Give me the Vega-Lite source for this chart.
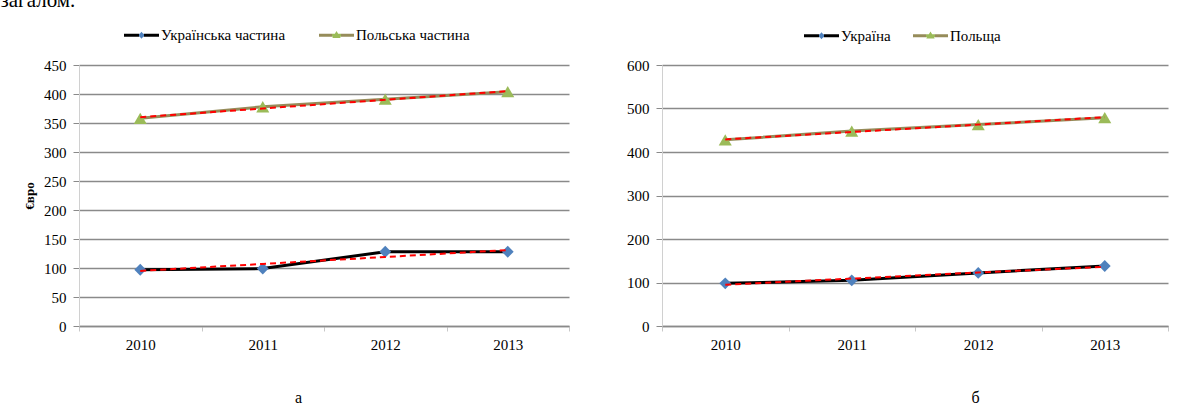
{
  "$schema": "https://vega.github.io/schema/vega-lite/v6.json",
  "background": "white",
  "padding": {"left": 0, "top": -11, "right": 5, "bottom": 0},
  "title": {"text": "загалом.", "anchor": "start", "fontSize": 21, "fontWeight": "normal", "font": "Liberation Serif", "color": "#000000", "dx": -23, "offset": -10, "baseline": "alphabetic"},
  "config": {
    "font": "Liberation Serif",
    "view": {"stroke": null},
    "axis": {"labelFont": "Liberation Serif", "labelColor": "#000000", "titleColor": "#000000", "titleFont": "Liberation Serif"},
    "legend": {"labelFont": "Liberation Serif"},
    "title": {"font": "Liberation Serif", "color": "#000000"}
  },
  "datasets": {
    "a": [
      {"year": "2010", "series": "Українська частина", "value": 97},
      {"year": "2011", "series": "Українська частина", "value": 99},
      {"year": "2012", "series": "Українська частина", "value": 128},
      {"year": "2013", "series": "Українська частина", "value": 128},
      {"year": "2010", "series": "Польська частина", "value": 358},
      {"year": "2011", "series": "Польська частина", "value": 378},
      {"year": "2012", "series": "Польська частина", "value": 391},
      {"year": "2013", "series": "Польська частина", "value": 404}
    ],
    "a_trend": [
      {"year": "2010", "series": "Українська частина", "value": 95},
      {"year": "2011", "series": "Українська частина", "value": 107},
      {"year": "2012", "series": "Українська частина", "value": 119},
      {"year": "2013", "series": "Українська частина", "value": 131},
      {"year": "2010", "series": "Польська частина", "value": 360},
      {"year": "2011", "series": "Польська частина", "value": 375},
      {"year": "2012", "series": "Польська частина", "value": 390},
      {"year": "2013", "series": "Польська частина", "value": 405}
    ],
    "b": [
      {"year": "2010", "series": "Україна", "value": 98},
      {"year": "2011", "series": "Україна", "value": 105},
      {"year": "2012", "series": "Україна", "value": 122},
      {"year": "2013", "series": "Україна", "value": 138},
      {"year": "2010", "series": "Польща", "value": 428},
      {"year": "2011", "series": "Польща", "value": 448},
      {"year": "2012", "series": "Польща", "value": 463},
      {"year": "2013", "series": "Польща", "value": 479}
    ],
    "b_trend": [
      {"year": "2010", "series": "Україна", "value": 95},
      {"year": "2011", "series": "Україна", "value": 109},
      {"year": "2012", "series": "Україна", "value": 123},
      {"year": "2013", "series": "Україна", "value": 136},
      {"year": "2010", "series": "Польща", "value": 429},
      {"year": "2011", "series": "Польща", "value": 446},
      {"year": "2012", "series": "Польща", "value": 463},
      {"year": "2013", "series": "Польща", "value": 480}
    ]
  },
  "spacing": 56,
  "resolve": {
    "scale": {"x": "independent", "y": "independent", "stroke": "independent"},
    "axis": {"x": "independent", "y": "independent"},
    "legend": {"stroke": "independent"}
  },
  "hconcat": [
    {
      "width": 490,
      "height": 261,
      "title": {"text": "а", "orient": "bottom", "frame": "bounds", "anchor": "middle", "offset": 38, "fontSize": 16, "fontWeight": "normal", "dx": 2},
      "encoding": {
        "x": {
          "field": "year", "type": "ordinal",
          "scale": {"type": "band", "paddingInner": 0, "paddingOuter": 0},
          "axis": {"title": null, "labelAngle": 0, "tickBand": "extent", "grid": false, "domainColor": "#8a8a8a", "domainWidth": 1.5, "tickColor": "#c8c8c8", "tickSize": 5, "labelPadding": 6, "labelFont": "Liberation Serif", "labelFontSize": 15, "labelColor": "#000000"}
        },
        "y": {
          "field": "value", "type": "quantitative",
          "scale": {"domain": [0, 450], "nice": false},
          "axis": {"title": "€вро", "values": [0, 50, 100, 150, 200, 250, 300, 350, 400, 450], "grid": true, "gridColor": "#8a8a8a", "gridWidth": 1.5, "domainColor": "#d0d0d0", "tickColor": "#8a8a8a", "tickSize": 6, "labelPadding": 7, "labelFont": "Liberation Serif", "labelFontSize": 15, "labelColor": "#000000", "titlePadding": 7, "titleFont": "Liberation Serif", "titleFontWeight": "bold", "titleFontSize": 13, "titleColor": "#000000"}
        }
      },
      "layer": [
        {
          "data": {"name": "a"},
          "mark": {"type": "line", "strokeWidth": 3},
          "encoding": {
            "stroke": {
              "field": "series", "type": "nominal",
              "scale": {"domain": ["Українська частина", "Польська частина"], "range": ["#000000", "#968c5a"]},
              "legend": {
                "orient": "none", "legendX": 45, "legendY": -47.5, "direction": "horizontal", "title": null,
                "labelFontSize": 15, "labelColor": "#000000", "labelFont": "Liberation Serif", "labelOffset": 2,
                "columnPadding": 33, "symbolSize": 1225, "padding": 0,
                "encode": {"symbols": {"update": {
                  "shape": {"signal": "datum.index === 0 ? 'M-1,-0.09L1,-0.09L1,0.09L-1,0.09Z M0,-0.2L0.17,0L0,0.2L-0.17,0Z' : 'M-1,-0.09L1,-0.09L1,0.09L-1,0.09Z M0,-0.24L0.24,0.16L-0.24,0.16Z'"},
                  "fill": {"signal": "datum.index === 0 ? {gradient: 'linear', x1: 0, y1: 0, x2: 1, y2: 0, stops: [{offset: 0, color: '#000000'}, {offset: 0.415, color: '#000000'}, {offset: 0.415, color: '#4f81bd'}, {offset: 0.585, color: '#4f81bd'}, {offset: 0.585, color: '#000000'}, {offset: 1, color: '#000000'}]} : {gradient: 'linear', x1: 0, y1: 0, x2: 1, y2: 0, stops: [{offset: 0, color: '#968c5a'}, {offset: 0.38, color: '#968c5a'}, {offset: 0.38, color: '#9bbb59'}, {offset: 0.62, color: '#9bbb59'}, {offset: 0.62, color: '#968c5a'}, {offset: 1, color: '#968c5a'}]}"},
                  "strokeWidth": {"value": 0},
                  "opacity": {"value": 1}
                }}}
              }
            }
          }
        },
        {
          "data": {"name": "a"},
          "mark": {"type": "point", "filled": true, "opacity": 1, "strokeWidth": 0},
          "encoding": {
            "fill": {"condition": {"test": "datum.series === 'Українська частина'", "value": "#4f81bd"}, "value": "#9bbb59"},
            "shape": {"condition": {"test": "datum.series === 'Українська частина'", "value": "diamond"}, "value": "triangle-up"},
            "size": {"condition": {"test": "datum.series === 'Українська частина'", "value": 140}, "value": 170}
          }
        },
        {
          "data": {"name": "a_trend"},
          "mark": {"type": "line", "color": "#ff0000", "strokeWidth": 2, "strokeDash": [6, 4]},
          "encoding": {"detail": {"field": "series", "type": "nominal"}}
        }
      ]
    },
    {
      "width": 506,
      "height": 261,
      "title": {"text": "б", "orient": "bottom", "frame": "bounds", "anchor": "middle", "offset": 38, "fontSize": 16, "fontWeight": "normal", "dx": 78},
      "encoding": {
        "x": {
          "field": "year", "type": "ordinal",
          "scale": {"type": "band", "paddingInner": 0, "paddingOuter": 0},
          "axis": {"title": null, "labelAngle": 0, "tickBand": "extent", "grid": false, "domainColor": "#8a8a8a", "domainWidth": 1.5, "tickColor": "#c8c8c8", "tickSize": 5, "labelPadding": 6, "labelFont": "Liberation Serif", "labelFontSize": 15, "labelColor": "#000000"}
        },
        "y": {
          "field": "value", "type": "quantitative",
          "scale": {"domain": [0, 600], "nice": false},
          "axis": {"title": null, "values": [0, 100, 200, 300, 400, 500, 600], "grid": true, "gridColor": "#8a8a8a", "gridWidth": 1.5, "domainColor": "#d0d0d0", "tickColor": "#8a8a8a", "tickSize": 6, "labelPadding": 7, "labelFont": "Liberation Serif", "labelFontSize": 15, "labelColor": "#000000"}
        }
      },
      "layer": [
        {
          "data": {"name": "b"},
          "mark": {"type": "line", "strokeWidth": 3},
          "encoding": {
            "stroke": {
              "field": "series", "type": "nominal",
              "scale": {"domain": ["Україна", "Польща"], "range": ["#000000", "#968c5a"]},
              "legend": {
                "orient": "none", "legendX": 142, "legendY": -47, "direction": "horizontal", "title": null,
                "labelFontSize": 15, "labelColor": "#000000", "labelFont": "Liberation Serif", "labelOffset": 2,
                "columnPadding": 22, "symbolSize": 1225, "padding": 0,
                "encode": {"symbols": {"update": {
                  "shape": {"signal": "datum.index === 0 ? 'M-1,-0.09L1,-0.09L1,0.09L-1,0.09Z M0,-0.2L0.17,0L0,0.2L-0.17,0Z' : 'M-1,-0.09L1,-0.09L1,0.09L-1,0.09Z M0,-0.24L0.24,0.16L-0.24,0.16Z'"},
                  "fill": {"signal": "datum.index === 0 ? {gradient: 'linear', x1: 0, y1: 0, x2: 1, y2: 0, stops: [{offset: 0, color: '#000000'}, {offset: 0.415, color: '#000000'}, {offset: 0.415, color: '#4f81bd'}, {offset: 0.585, color: '#4f81bd'}, {offset: 0.585, color: '#000000'}, {offset: 1, color: '#000000'}]} : {gradient: 'linear', x1: 0, y1: 0, x2: 1, y2: 0, stops: [{offset: 0, color: '#968c5a'}, {offset: 0.38, color: '#968c5a'}, {offset: 0.38, color: '#9bbb59'}, {offset: 0.62, color: '#9bbb59'}, {offset: 0.62, color: '#968c5a'}, {offset: 1, color: '#968c5a'}]}"},
                  "strokeWidth": {"value": 0},
                  "opacity": {"value": 1}
                }}}
              }
            }
          }
        },
        {
          "data": {"name": "b"},
          "mark": {"type": "point", "filled": true, "opacity": 1, "strokeWidth": 0},
          "encoding": {
            "fill": {"condition": {"test": "datum.series === 'Україна'", "value": "#4f81bd"}, "value": "#9bbb59"},
            "shape": {"condition": {"test": "datum.series === 'Україна'", "value": "diamond"}, "value": "triangle-up"},
            "size": {"condition": {"test": "datum.series === 'Україна'", "value": 140}, "value": 170}
          }
        },
        {
          "data": {"name": "b_trend"},
          "mark": {"type": "line", "color": "#ff0000", "strokeWidth": 2, "strokeDash": [6, 4]},
          "encoding": {"detail": {"field": "series", "type": "nominal"}}
        }
      ]
    }
  ]
}
